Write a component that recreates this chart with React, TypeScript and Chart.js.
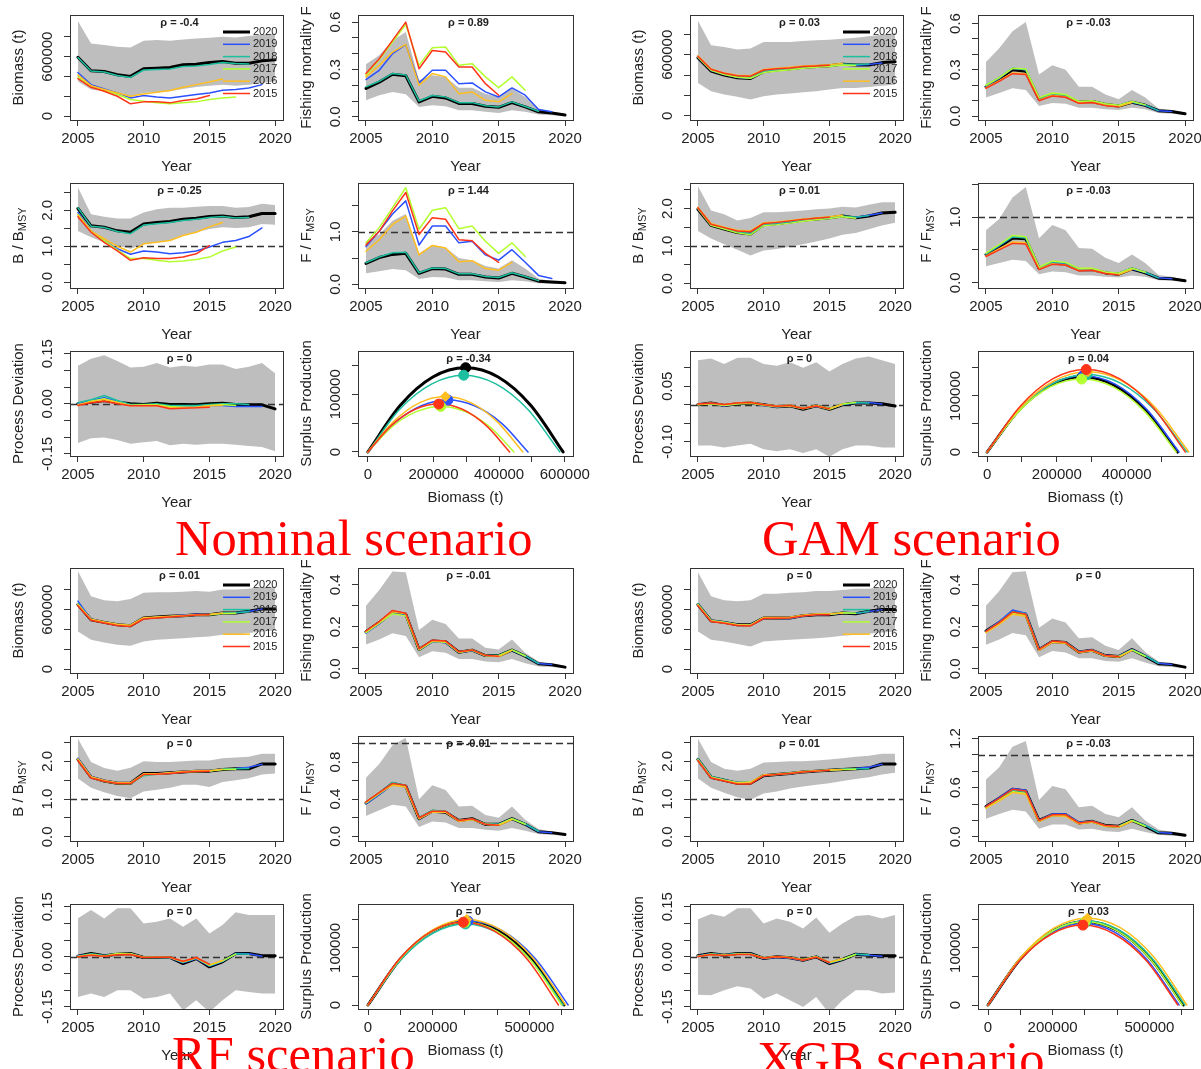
import React, { useEffect, useRef } from 'react';
import { Chart, registerables } from 'chart.js';

Chart.register(...registerables);

const FONT = "'Liberation Sans', Arial, Helvetica, sans-serif";
const TEXT = '#222222';
const AXIS = '#333333';
const BAND_COLOR = '#BEBEBE';

const YEARS = [2005, 2006, 2007, 2008, 2009, 2010, 2011, 2012, 2013, 2014, 2015, 2016, 2017, 2018, 2019, 2020];
const PEELS = ['2020', '2019', '2018', '2017', '2016', '2015'];
const PEEL_COLORS = ['#000000', '#2B50FF', '#1CBF9F', '#B4FF30', '#FFBF20', '#FF3418'];
const SCENARIOS = ['Nominal scenario', 'GAM scenario', 'RF scenario', 'XGB scenario'];

// ---------- tick values & labels ----------
const YEAR_TICKS = [2005, 2010, 2015, 2020];
const YEAR_LABELS = ['2005', '2010', '2015', '2020'];
const BIOMASS_TICKS = [0, 200000, 400000, 600000, 800000];
const BIOMASS_LABELS = ['0', '', '', '600000', ''];
const F06_TICKS = [0, 0.1, 0.2, 0.3, 0.4, 0.5, 0.6];
const F06_LABELS = ['0.0', '', '', '0.3', '', '', '0.6'];
const F04_TICKS = [0, 0.1, 0.2, 0.3, 0.4];
const F04_LABELS = ['0.0', '', '0.2', '', '0.4'];
const BB_TICKS = [0, 0.5, 1, 1.5, 2, 2.5];
const BB_LABELS = ['0.0', '', '1.0', '', '2.0', ''];
const FF15_TICKS = [0, 0.5, 1, 1.5];
const FF15_LABELS = ['0.0', '', '1.0', ''];
const FF10_TICKS = [0, 0.2, 0.4, 0.6, 0.8, 1.0];
const FF10_LABELS = ['0.0', '', '0.4', '', '0.8', ''];
const FF12_TICKS = [0, 0.2, 0.4, 0.6, 0.8, 1.0, 1.2];
const FF12_LABELS = ['0.0', '', '', '0.6', '', '', '1.2'];
const PD15_TICKS = [-0.15, -0.1, -0.05, 0, 0.05, 0.1, 0.15];
const PD15_LABELS = ['-0.15', '', '', '0.00', '', '', '0.15'];
const PD10_TICKS = [-0.1, -0.05, 0, 0.05, 0.1];
const PD10_LABELS = ['-0.10', '', '', '0.05', ''];
const SPY_TICKS = [0, 50000, 100000, 150000];
const SPY_LABELS = ['0', '', '100000', ''];
const SPX600_TICKS = [0, 100000, 200000, 300000, 400000, 500000, 600000];
const NOM_SPX_LABELS = ['0', '', '200000', '', '400000', '', '600000'];
const TREE_SPX_LABELS = ['0', '', '200000', '', '', '500000', ''];
const SPX500_TICKS = [0, 100000, 200000, 300000, 400000, 500000];
const GAM_SPX_LABELS = ['0', '', '200000', '', '400000', ''];

// ---------- Nominal ----------
const NOM_RHO = ['-0.4', '0.89', '-0.25', '1.44', '0', '-0.34'];
const NOM_BIOMASS = [
  [593000, 457000, 450000, 417000, 400000, 477000, 483000, 490000, 517000, 523000, 540000, 550000, 533000, 533000, 557000, 567000],
  [440000, 317000, 273000, 233000, 183000, 207000, 193000, 183000, 200000, 217000, 233000, 260000, 267000, 283000, 317000],
  [590000, 455000, 445000, 410000, 390000, 465000, 470000, 475000, 500000, 505000, 520000, 540000, 530000, 525000],
  [393000, 300000, 260000, 217000, 167000, 150000, 133000, 123000, 133000, 143000, 167000, 183000, 193000],
  [417000, 307000, 267000, 233000, 200000, 223000, 240000, 257000, 290000, 317000, 343000, 373000],
  [377000, 290000, 250000, 200000, 123000, 143000, 143000, 133000, 157000, 173000, 207000],
];
const NOM_BIOMASS_HI = [960000, 733000, 717000, 700000, 693000, 760000, 767000, 760000, 773000, 783000, 790000, 800000, 793000, 807000, 823000, 833000];
const NOM_BIOMASS_LO = [350000, 267000, 250000, 223000, 200000, 233000, 240000, 250000, 273000, 293000, 307000, 317000, 307000, 317000, 333000, 350000];
const NOM_F = [
  [0.18, 0.22, 0.27, 0.26, 0.095, 0.13, 0.12, 0.085, 0.085, 0.067, 0.06, 0.09, 0.063, 0.032, 0.025, 0.012],
  [0.236, 0.295, 0.40, 0.457, 0.215, 0.295, 0.295, 0.21, 0.215, 0.158, 0.126, 0.183, 0.137, 0.046, 0.032],
  [0.19, 0.225, 0.275, 0.265, 0.1, 0.135, 0.125, 0.09, 0.09, 0.07, 0.063, 0.095, 0.066, 0.035],
  [0.263, 0.362, 0.474, 0.585, 0.326, 0.438, 0.442, 0.326, 0.337, 0.253, 0.185, 0.253, 0.168],
  [0.253, 0.326, 0.41, 0.459, 0.2, 0.274, 0.253, 0.147, 0.158, 0.105, 0.095, 0.147],
  [0.274, 0.368, 0.484, 0.60, 0.305, 0.42, 0.41, 0.316, 0.316, 0.21, 0.137],
];
const NOM_F_HI = [0.333, 0.39, 0.484, 0.537, 0.232, 0.263, 0.253, 0.185, 0.185, 0.147, 0.126, 0.179, 0.126, 0.053, 0.032, 0.015];
const NOM_F_LO = [0.105, 0.137, 0.158, 0.143, 0.063, 0.074, 0.067, 0.042, 0.042, 0.032, 0.025, 0.042, 0.032, 0.015, 0.01, 0.006];
const NOM_BB = [
  [2.05, 1.57, 1.53, 1.43, 1.39, 1.62, 1.66, 1.69, 1.75, 1.78, 1.83, 1.84, 1.80, 1.82, 1.91, 1.91],
  [1.94, 1.43, 1.16, 0.93, 0.78, 0.87, 0.84, 0.79, 0.82, 0.87, 0.98, 1.11, 1.16, 1.27, 1.51],
  [2.07, 1.56, 1.52, 1.41, 1.35, 1.59, 1.63, 1.66, 1.72, 1.75, 1.80, 1.83, 1.79, 1.80],
  [1.89, 1.43, 1.16, 0.90, 0.66, 0.66, 0.61, 0.57, 0.59, 0.63, 0.70, 0.87, 0.98],
  [1.87, 1.42, 1.21, 1.00, 0.84, 1.07, 1.11, 1.16, 1.30, 1.39, 1.54, 1.66],
  [1.82, 1.39, 1.11, 0.87, 0.61, 0.68, 0.66, 0.66, 0.70, 0.79, 1.02],
];
const NOM_BB_HI = [2.64, 1.89, 1.82, 1.77, 1.77, 1.94, 2.03, 2.07, 2.07, 2.10, 2.12, 2.12, 2.07, 2.09, 2.18, 2.15];
const NOM_BB_LO = [1.43, 1.25, 1.11, 1.02, 0.93, 1.05, 1.11, 1.16, 1.30, 1.39, 1.48, 1.53, 1.51, 1.53, 1.62, 1.60];
const NOM_FF = [
  [0.40, 0.51, 0.57, 0.59, 0.21, 0.30, 0.29, 0.19, 0.19, 0.14, 0.12, 0.21, 0.14, 0.06, 0.045, 0.03],
  [0.72, 1.01, 1.34, 1.59, 0.75, 1.11, 1.11, 0.79, 0.82, 0.56, 0.46, 0.66, 0.42, 0.17, 0.11],
  [0.41, 0.52, 0.60, 0.61, 0.22, 0.31, 0.30, 0.20, 0.20, 0.15, 0.13, 0.22, 0.15, 0.07],
  [0.79, 1.08, 1.46, 1.84, 1.05, 1.41, 1.46, 1.06, 1.11, 0.82, 0.59, 0.79, 0.53],
  [0.63, 0.85, 1.14, 1.30, 0.56, 0.74, 0.69, 0.43, 0.45, 0.30, 0.27, 0.42],
  [0.75, 1.01, 1.40, 1.75, 0.95, 1.27, 1.24, 0.85, 0.83, 0.59, 0.42],
];
const NOM_FF_HI = [0.82, 0.95, 1.21, 1.34, 0.59, 0.75, 0.70, 0.50, 0.46, 0.35, 0.30, 0.46, 0.30, 0.11, 0.06, 0.03];
const NOM_FF_LO = [0.21, 0.25, 0.29, 0.27, 0.10, 0.14, 0.13, 0.08, 0.08, 0.06, 0.045, 0.08, 0.06, 0.02, 0.013, 0.006];
const NOM_PD = [
  [0.0, 0.005, 0.01, 0.005, 0.0, -0.002, 0.002, -0.002, -0.002, -0.003, 0.0, 0.002, -0.002, -0.003, -0.003, -0.015],
  [0.0, 0.01, 0.018, 0.008, -0.003, -0.003, -0.002, -0.01, -0.01, -0.008, -0.005, -0.005, -0.008, -0.008, -0.008],
  [0.003, 0.012, 0.025, 0.01, -0.002, -0.002, 0.0, -0.005, -0.005, -0.005, -0.002, 0.0, 0.0, -0.002],
  [-0.005, 0.008, 0.015, 0.005, -0.005, -0.003, -0.003, -0.008, -0.01, -0.01, -0.005, -0.002, -0.005],
  [-0.003, 0.006, 0.012, 0.004, -0.005, -0.005, -0.005, -0.012, -0.012, -0.01, -0.006, -0.004],
  [-0.005, 0.003, 0.008, 0.0, -0.006, -0.006, -0.006, -0.015, -0.013, -0.012, -0.01],
];
const NOM_PD_HI = [0.114, 0.135, 0.145, 0.128, 0.109, 0.111, 0.122, 0.109, 0.114, 0.111, 0.118, 0.118, 0.104, 0.111, 0.122, 0.091];
const NOM_PD_LO = [-0.117, -0.103, -0.101, -0.108, -0.119, -0.115, -0.111, -0.124, -0.119, -0.122, -0.119, -0.119, -0.122, -0.126, -0.129, -0.142];
const NOM_SP = [
  [[0, 0], [99000, 81000], [198000, 130000], [298000, 146000], [397000, 130000], [496000, 81000], [595000, 0]],
  [[0, 0], [81000, 50000], [163000, 80000], [244000, 90000], [325000, 80000], [407000, 50000], [488000, 0]],
  [[0, 0], [97000, 74000], [195000, 118000], [292000, 133000], [390000, 118000], [487000, 74000], [585000, 0]],
  [[0, 0], [74000, 44000], [148000, 70000], [222000, 79000], [297000, 70000], [371000, 44000], [445000, 0]],
  [[0, 0], [79000, 53000], [157000, 85000], [236000, 96000], [315000, 85000], [393000, 53000], [472000, 0]],
  [[0, 0], [72000, 46000], [144000, 74000], [216000, 83000], [288000, 74000], [360000, 46000], [432000, 0]],
];
const NOM_MSY = [[298000, 146000], [244000, 90000], [292000, 133000], [222000, 79000], [236000, 96000], [216000, 83000]];

// ---------- GAM ----------
const GAM_RHO = ['0.03', '-0.03', '0.01', '-0.03', '0', '0.04'];
const GAM_BIOMASS = [
  [570000, 440000, 400000, 375000, 368000, 435000, 452000, 462000, 478000, 485000, 492000, 508000, 500000, 500000, 523000, 532000],
  [575000, 445000, 405000, 378000, 370000, 430000, 445000, 458000, 472000, 480000, 488000, 505000, 498000, 505000, 520000],
  [580000, 450000, 410000, 382000, 375000, 440000, 455000, 465000, 480000, 488000, 495000, 510000, 505000, 510000],
  [578000, 448000, 405000, 380000, 370000, 425000, 440000, 452000, 468000, 478000, 485000, 500000, 495000],
  [590000, 460000, 420000, 400000, 395000, 455000, 468000, 478000, 490000, 495000, 502000, 515000],
  [585000, 458000, 418000, 395000, 390000, 450000, 462000, 470000, 485000, 490000, 497000],
];
const GAM_BIOMASS_HI = [935000, 694000, 677000, 652000, 661000, 726000, 726000, 726000, 735000, 742000, 748000, 758000, 768000, 781000, 797000, 813000];
const GAM_BIOMASS_LO = [323000, 242000, 210000, 187000, 161000, 194000, 210000, 219000, 232000, 242000, 258000, 274000, 274000, 284000, 297000, 306000];
const GAM_F = [
  [0.19, 0.24, 0.30, 0.29, 0.11, 0.14, 0.13, 0.09, 0.095, 0.075, 0.065, 0.09, 0.07, 0.035, 0.03, 0.015],
  [0.195, 0.245, 0.31, 0.30, 0.115, 0.14, 0.135, 0.09, 0.095, 0.075, 0.068, 0.09, 0.07, 0.035, 0.03],
  [0.2, 0.25, 0.31, 0.3, 0.115, 0.145, 0.135, 0.092, 0.097, 0.077, 0.068, 0.092, 0.072, 0.036],
  [0.2, 0.25, 0.31, 0.305, 0.12, 0.15, 0.14, 0.095, 0.1, 0.08, 0.07, 0.095, 0.073],
  [0.185, 0.23, 0.28, 0.275, 0.105, 0.135, 0.125, 0.085, 0.09, 0.07, 0.062, 0.088],
  [0.18, 0.225, 0.275, 0.27, 0.1, 0.13, 0.122, 0.083, 0.088, 0.068, 0.06],
];
const GAM_F_HI = [0.35, 0.44, 0.55, 0.61, 0.27, 0.33, 0.30, 0.19, 0.19, 0.14, 0.11, 0.17, 0.12, 0.05, 0.035, 0.018];
const GAM_F_LO = [0.12, 0.15, 0.18, 0.17, 0.065, 0.085, 0.08, 0.055, 0.055, 0.045, 0.04, 0.055, 0.045, 0.02, 0.015, 0.007];
const GAM_BB = [
  [1.98, 1.55, 1.45, 1.36, 1.32, 1.57, 1.60, 1.64, 1.69, 1.72, 1.75, 1.80, 1.75, 1.80, 1.88, 1.90],
  [2.0, 1.56, 1.46, 1.37, 1.33, 1.56, 1.59, 1.63, 1.68, 1.71, 1.74, 1.79, 1.76, 1.82, 1.88],
  [2.02, 1.57, 1.47, 1.38, 1.34, 1.58, 1.61, 1.65, 1.70, 1.73, 1.76, 1.80, 1.77, 1.81],
  [2.0, 1.55, 1.45, 1.35, 1.30, 1.54, 1.57, 1.61, 1.66, 1.70, 1.73, 1.78, 1.74],
  [2.03, 1.6, 1.5, 1.42, 1.4, 1.62, 1.64, 1.68, 1.72, 1.75, 1.78, 1.82],
  [2.02, 1.58, 1.49, 1.40, 1.38, 1.60, 1.63, 1.67, 1.71, 1.74, 1.77],
];
const GAM_BB_HI = [2.6, 1.95, 1.85, 1.68, 1.75, 1.9, 1.9, 1.92, 1.95, 1.98, 2.0, 2.05, 2.03, 2.1, 2.17, 2.17];
const GAM_BB_LO = [1.4, 1.2, 1.05, 0.9, 0.75, 0.88, 0.92, 0.98, 1.05, 1.12, 1.2, 1.3, 1.35, 1.45, 1.55, 1.62];
const GAM_FF = [
  [0.43, 0.55, 0.68, 0.67, 0.22, 0.30, 0.28, 0.20, 0.20, 0.15, 0.13, 0.21, 0.15, 0.07, 0.06, 0.03],
  [0.44, 0.56, 0.70, 0.69, 0.23, 0.31, 0.29, 0.2, 0.21, 0.155, 0.135, 0.21, 0.155, 0.075, 0.06],
  [0.44, 0.57, 0.70, 0.68, 0.23, 0.32, 0.30, 0.21, 0.21, 0.16, 0.14, 0.22, 0.16, 0.075],
  [0.45, 0.58, 0.72, 0.70, 0.24, 0.33, 0.31, 0.22, 0.22, 0.165, 0.145, 0.22, 0.16],
  [0.41, 0.52, 0.62, 0.61, 0.21, 0.29, 0.27, 0.19, 0.19, 0.145, 0.125, 0.2],
  [0.40, 0.50, 0.60, 0.59, 0.2, 0.28, 0.27, 0.18, 0.19, 0.14, 0.12],
];
const GAM_FF_HI = [0.8, 0.97, 1.3, 1.46, 0.68, 0.88, 0.8, 0.53, 0.52, 0.38, 0.3, 0.43, 0.3, 0.12, 0.09, 0.04];
const GAM_FF_LO = [0.25, 0.3, 0.35, 0.33, 0.13, 0.17, 0.16, 0.11, 0.11, 0.09, 0.08, 0.11, 0.09, 0.04, 0.03, 0.015];
const GAM_PD = [
  [0.0, 0.005, -0.002, 0.003, 0.005, 0.0, -0.005, -0.003, -0.012, -0.003, -0.012, 0.0, 0.005, 0.005, 0.003, -0.003],
  [0.0, 0.004, -0.003, 0.003, 0.005, -0.002, -0.006, -0.003, -0.01, -0.004, -0.011, 0.0, 0.005, 0.006, 0.002],
  [0.001, 0.005, -0.001, 0.004, 0.006, 0.0, -0.004, -0.002, -0.01, -0.002, -0.01, 0.001, 0.006, 0.005],
  [0.0, 0.003, -0.002, 0.002, 0.004, -0.001, -0.005, -0.003, -0.011, -0.003, -0.012, 0.002, 0.006],
  [0.001, 0.004, 0.0, 0.005, 0.007, 0.001, -0.003, -0.001, -0.009, -0.002, -0.01, 0.001],
  [0.002, 0.005, 0.001, 0.005, 0.006, 0.0, -0.004, -0.002, -0.01, -0.003, -0.011],
];
const GAM_PD_HI = [0.12, 0.125, 0.11, 0.127, 0.127, 0.11, 0.105, 0.115, 0.1, 0.115, 0.09, 0.11, 0.125, 0.13, 0.12, 0.11];
const GAM_PD_LO = [-0.11, -0.11, -0.115, -0.11, -0.105, -0.12, -0.125, -0.12, -0.13, -0.12, -0.14, -0.12, -0.11, -0.11, -0.115, -0.115];
const GAM_SP = [
  [[0, 0], [91000, 74500], [182000, 119000], [273000, 134000], [364000, 119000], [455000, 74500], [546000, 0]],
  [[0, 0], [92000, 75600], [183000, 121000], [275000, 136000], [367000, 121000], [458000, 75600], [550000, 0]],
  [[0, 0], [95500, 76700], [191000, 122700], [286500, 138000], [382000, 122700], [477500, 76700], [573000, 0]],
  [[0, 0], [90000, 72000], [181000, 116000], [271000, 130000], [361000, 116000], [452000, 72000], [542000, 0]],
  [[0, 0], [96000, 79500], [193000, 127000], [289000, 143000], [385000, 127000], [482000, 79500], [578000, 0]],
  [[0, 0], [95000, 81700], [189000, 130700], [284000, 147000], [379000, 130700], [473000, 81700], [568000, 0]],
];
const GAM_MSY = [[273000, 134000], [275000, 136000], [286500, 138000], [271000, 130000], [289000, 143000], [284000, 147000]];

// ---------- RF ----------
const RF_RHO = ['0.01', '-0.01', '0', '-0.01', '0', '0'];
const RF_BIOMASS = [
  [651000, 498000, 471000, 447000, 437000, 515000, 525000, 532000, 539000, 549000, 549000, 566000, 566000, 583000, 607000, 607000],
  [685000, 500000, 472000, 448000, 438000, 512000, 522000, 530000, 545000, 552000, 550000, 565000, 568000, 580000, 605000],
  [660000, 500000, 473000, 450000, 440000, 510000, 522000, 530000, 537000, 547000, 548000, 565000, 568000, 578000],
  [655000, 497000, 470000, 448000, 435000, 512000, 520000, 528000, 536000, 546000, 548000, 560000, 562000],
  [650000, 502000, 475000, 452000, 442000, 518000, 526000, 533000, 540000, 548000, 552000, 565000],
  [640000, 492000, 465000, 440000, 430000, 505000, 515000, 525000, 535000, 545000, 548000],
];
const RF_BIOMASS_HI = [990000, 736000, 695000, 685000, 708000, 770000, 776000, 776000, 780000, 787000, 780000, 803000, 803000, 810000, 830000, 830000];
const RF_BIOMASS_LO = [380000, 295000, 268000, 244000, 234000, 278000, 295000, 302000, 312000, 322000, 329000, 346000, 346000, 363000, 380000, 390000];
const RF_F = [
  [0.176, 0.22, 0.27, 0.26, 0.092, 0.132, 0.129, 0.079, 0.089, 0.063, 0.063, 0.089, 0.06, 0.024, 0.019, 0.008],
  [0.17, 0.215, 0.265, 0.255, 0.09, 0.128, 0.125, 0.078, 0.087, 0.062, 0.062, 0.088, 0.06, 0.025, 0.02],
  [0.175, 0.22, 0.275, 0.262, 0.093, 0.133, 0.13, 0.08, 0.09, 0.064, 0.064, 0.09, 0.062, 0.026],
  [0.172, 0.218, 0.262, 0.252, 0.09, 0.13, 0.127, 0.078, 0.088, 0.062, 0.062, 0.09, 0.061],
  [0.178, 0.222, 0.272, 0.262, 0.094, 0.134, 0.13, 0.08, 0.09, 0.063, 0.058, 0.088],
  [0.18, 0.225, 0.278, 0.265, 0.095, 0.136, 0.132, 0.081, 0.09, 0.064, 0.06],
];
const RF_F_HI = [0.30, 0.375, 0.463, 0.46, 0.185, 0.234, 0.213, 0.144, 0.144, 0.10, 0.092, 0.14, 0.076, 0.035, 0.019, 0.011];
const RF_F_LO = [0.116, 0.14, 0.169, 0.156, 0.055, 0.084, 0.076, 0.047, 0.047, 0.035, 0.031, 0.047, 0.027, 0.011, 0.008, 0.003];
const RF_BB = [
  [2.05, 1.58, 1.48, 1.42, 1.42, 1.68, 1.68, 1.70, 1.72, 1.74, 1.74, 1.78, 1.80, 1.80, 1.93, 1.93],
  [2.08, 1.6, 1.49, 1.43, 1.43, 1.66, 1.67, 1.70, 1.73, 1.75, 1.75, 1.79, 1.81, 1.84, 1.92],
  [2.06, 1.58, 1.48, 1.42, 1.41, 1.62, 1.66, 1.69, 1.72, 1.74, 1.75, 1.79, 1.80, 1.81],
  [2.04, 1.57, 1.47, 1.41, 1.41, 1.65, 1.66, 1.69, 1.72, 1.73, 1.74, 1.78, 1.79],
  [2.06, 1.59, 1.49, 1.43, 1.43, 1.67, 1.67, 1.70, 1.73, 1.75, 1.75, 1.79],
  [2.02, 1.56, 1.47, 1.41, 1.41, 1.65, 1.66, 1.68, 1.71, 1.73, 1.74],
];
const RF_BB_HI = [2.6, 1.98, 1.82, 1.75, 1.83, 2.0, 1.98, 1.98, 2.0, 2.02, 2.02, 2.08, 2.1, 2.12, 2.2, 2.2];
const RF_BB_LO = [1.55, 1.3, 1.18, 1.08, 1.02, 1.2, 1.25, 1.3, 1.38, 1.38, 1.32, 1.45, 1.5, 1.55, 1.65, 1.68];
const RF_FF = [
  [0.36, 0.46, 0.57, 0.54, 0.19, 0.27, 0.26, 0.17, 0.19, 0.13, 0.13, 0.19, 0.13, 0.05, 0.04, 0.02],
  [0.35, 0.45, 0.56, 0.53, 0.19, 0.26, 0.26, 0.17, 0.18, 0.13, 0.13, 0.19, 0.13, 0.05, 0.04],
  [0.37, 0.47, 0.58, 0.55, 0.2, 0.28, 0.27, 0.17, 0.19, 0.135, 0.13, 0.19, 0.135, 0.055],
  [0.36, 0.46, 0.56, 0.53, 0.19, 0.27, 0.26, 0.17, 0.18, 0.13, 0.125, 0.19, 0.13],
  [0.37, 0.47, 0.55, 0.53, 0.19, 0.26, 0.26, 0.16, 0.18, 0.13, 0.12, 0.18],
  [0.37, 0.47, 0.57, 0.55, 0.2, 0.27, 0.27, 0.17, 0.19, 0.13, 0.12],
];
const RF_FF_HI = [0.63, 0.78, 0.98, 1.06, 0.4, 0.55, 0.5, 0.32, 0.33, 0.23, 0.2, 0.32, 0.18, 0.08, 0.05, 0.025];
const RF_FF_LO = [0.22, 0.28, 0.34, 0.32, 0.1, 0.16, 0.15, 0.09, 0.09, 0.07, 0.06, 0.09, 0.06, 0.025, 0.015, 0.006];
const RF_PD = [
  [0.002, 0.01, 0.003, 0.008, 0.01, -0.002, -0.002, -0.002, -0.02, -0.005, -0.03, -0.015, 0.01, 0.01, 0.003, 0.003],
  [0.003, 0.008, 0.003, 0.007, 0.009, -0.002, -0.002, -0.003, -0.018, -0.006, -0.028, -0.014, 0.01, 0.009, 0.002],
  [0.002, 0.009, 0.004, 0.009, 0.01, -0.001, -0.001, -0.002, -0.016, -0.004, -0.027, -0.013, 0.009, 0.008],
  [0.001, 0.007, 0.002, 0.01, 0.009, -0.002, -0.002, -0.002, -0.015, -0.003, -0.025, -0.012, 0.008],
  [0.0, 0.006, 0.002, 0.007, 0.008, -0.001, -0.001, -0.001, -0.014, -0.003, -0.024, -0.011],
  [0.0, 0.005, 0.002, 0.006, 0.007, -0.002, -0.001, -0.001, -0.013, -0.002, -0.022],
];
const RF_PD_HI = [0.115, 0.14, 0.115, 0.145, 0.145, 0.1, 0.105, 0.115, 0.09, 0.115, 0.07, 0.095, 0.133, 0.125, 0.125, 0.125];
const RF_PD_LO = [-0.12, -0.11, -0.12, -0.1, -0.1, -0.125, -0.12, -0.11, -0.16, -0.13, -0.165, -0.13, -0.1, -0.105, -0.11, -0.11];
const RF_SP = [
  [[0, 0], [101000, 81000], [202000, 130000], [303000, 146000], [405000, 130000], [506000, 81000], [607000, 0]],
  [[0, 0], [103000, 82000], [207000, 131000], [310000, 147000], [413000, 131000], [517000, 82000], [620000, 0]],
  [[0, 0], [101000, 79000], [202000, 126000], [302000, 142000], [403000, 126000], [504000, 79000], [605000, 0]],
  [[0, 0], [100000, 81000], [200000, 129000], [300000, 145000], [400000, 129000], [500000, 81000], [600000, 0]],
  [[0, 0], [102000, 83000], [204000, 133000], [306000, 150000], [408000, 133000], [510000, 83000], [612000, 0]],
  [[0, 0], [98000, 81000], [197000, 129000], [295000, 145000], [393000, 129000], [492000, 81000], [590000, 0]],
];
const RF_MSY = [[303000, 146000], [310000, 147000], [302000, 142000], [300000, 145000], [306000, 150000], [295000, 145000]];

// ---------- XGB ----------
const XGB_RHO = ['0', '0', '0.01', '-0.03', '0', '0.03'];
const XGB_BIOMASS = [
  [651000, 488000, 471000, 447000, 447000, 515000, 515000, 515000, 539000, 549000, 549000, 566000, 559000, 583000, 600000, 600000],
  [655000, 490000, 472000, 448000, 445000, 512000, 512000, 510000, 535000, 548000, 550000, 565000, 560000, 580000, 598000],
  [660000, 492000, 474000, 450000, 447000, 515000, 515000, 515000, 538000, 550000, 552000, 567000, 562000, 582000],
  [650000, 486000, 468000, 445000, 440000, 518000, 518000, 520000, 540000, 552000, 553000, 568000, 563000],
  [648000, 487000, 470000, 447000, 442000, 520000, 520000, 522000, 542000, 555000, 556000, 565000],
  [640000, 480000, 463000, 440000, 435000, 510000, 512000, 515000, 535000, 548000, 549000],
];
const XGB_BIOMASS_HI = [980000, 736000, 695000, 685000, 695000, 760000, 760000, 770000, 776000, 787000, 787000, 797000, 810000, 810000, 827000, 830000];
const XGB_BIOMASS_LO = [380000, 295000, 278000, 254000, 227000, 278000, 288000, 295000, 302000, 312000, 322000, 336000, 346000, 356000, 370000, 380000];
const XGB_F = [
  [0.18, 0.22, 0.27, 0.26, 0.092, 0.13, 0.125, 0.08, 0.088, 0.063, 0.058, 0.092, 0.06, 0.024, 0.02, 0.008],
  [0.18, 0.225, 0.28, 0.265, 0.094, 0.13, 0.126, 0.082, 0.09, 0.064, 0.06, 0.092, 0.062, 0.026, 0.02],
  [0.178, 0.22, 0.272, 0.262, 0.093, 0.13, 0.126, 0.081, 0.088, 0.063, 0.059, 0.09, 0.062, 0.027],
  [0.175, 0.215, 0.265, 0.255, 0.09, 0.128, 0.124, 0.079, 0.087, 0.062, 0.058, 0.09, 0.06],
  [0.172, 0.212, 0.26, 0.25, 0.088, 0.126, 0.122, 0.078, 0.086, 0.061, 0.056, 0.088],
  [0.178, 0.22, 0.27, 0.26, 0.092, 0.132, 0.126, 0.08, 0.089, 0.063, 0.058],
];
const XGB_F_HI = [0.30, 0.37, 0.46, 0.465, 0.195, 0.24, 0.22, 0.145, 0.15, 0.11, 0.09, 0.145, 0.08, 0.035, 0.02, 0.011];
const XGB_F_LO = [0.115, 0.14, 0.17, 0.16, 0.055, 0.085, 0.078, 0.05, 0.05, 0.037, 0.033, 0.05, 0.03, 0.012, 0.008, 0.003];
const XGB_BB = [
  [2.05, 1.58, 1.5, 1.42, 1.42, 1.62, 1.65, 1.68, 1.72, 1.74, 1.76, 1.78, 1.80, 1.82, 1.93, 1.93],
  [2.06, 1.59, 1.5, 1.43, 1.43, 1.62, 1.65, 1.67, 1.72, 1.74, 1.76, 1.79, 1.81, 1.84, 1.92],
  [2.07, 1.6, 1.51, 1.44, 1.44, 1.63, 1.66, 1.69, 1.73, 1.75, 1.77, 1.79, 1.80, 1.80],
  [2.04, 1.58, 1.5, 1.43, 1.45, 1.63, 1.65, 1.68, 1.72, 1.74, 1.76, 1.78, 1.79],
  [2.03, 1.57, 1.49, 1.42, 1.44, 1.64, 1.66, 1.69, 1.73, 1.75, 1.77, 1.78],
  [2.02, 1.56, 1.48, 1.40, 1.40, 1.62, 1.65, 1.68, 1.72, 1.74, 1.76],
];
const XGB_BB_HI = [2.6, 1.98, 1.8, 1.75, 1.8, 1.97, 1.98, 2.0, 2.0, 2.02, 2.05, 2.08, 2.12, 2.15, 2.2, 2.2];
const XGB_BB_LO = [1.55, 1.3, 1.17, 1.05, 0.98, 1.15, 1.2, 1.28, 1.33, 1.38, 1.42, 1.48, 1.53, 1.58, 1.65, 1.7];
const XGB_FF = [
  [0.37, 0.47, 0.58, 0.56, 0.2, 0.27, 0.27, 0.17, 0.19, 0.14, 0.13, 0.2, 0.13, 0.05, 0.045, 0.02],
  [0.37, 0.48, 0.59, 0.57, 0.2, 0.28, 0.28, 0.18, 0.19, 0.14, 0.13, 0.2, 0.14, 0.055, 0.045],
  [0.36, 0.46, 0.57, 0.55, 0.2, 0.27, 0.27, 0.17, 0.19, 0.14, 0.13, 0.2, 0.14, 0.055],
  [0.35, 0.45, 0.55, 0.53, 0.19, 0.26, 0.26, 0.17, 0.18, 0.13, 0.125, 0.2, 0.13],
  [0.35, 0.44, 0.54, 0.52, 0.19, 0.26, 0.25, 0.16, 0.18, 0.13, 0.12, 0.19],
  [0.37, 0.47, 0.58, 0.56, 0.2, 0.27, 0.27, 0.17, 0.19, 0.14, 0.13],
];
const XGB_FF_HI = [0.7, 0.85, 1.1, 1.17, 0.45, 0.62, 0.58, 0.36, 0.38, 0.28, 0.24, 0.36, 0.2, 0.09, 0.06, 0.03];
const XGB_FF_LO = [0.22, 0.28, 0.33, 0.31, 0.1, 0.15, 0.15, 0.09, 0.1, 0.07, 0.06, 0.1, 0.06, 0.025, 0.015, 0.006];
const XGB_PD = [
  [0.003, 0.01, 0.005, 0.01, 0.01, -0.005, 0.0, -0.003, -0.01, 0.0, -0.02, -0.008, 0.008, 0.005, 0.003, 0.003],
  [0.003, 0.009, 0.005, 0.009, 0.01, -0.006, -0.001, -0.004, -0.011, 0.0, -0.019, -0.008, 0.008, 0.005, 0.002],
  [0.002, 0.009, 0.006, 0.01, 0.009, -0.004, 0.0, -0.003, -0.01, 0.001, -0.018, -0.007, 0.008, 0.006],
  [0.002, 0.008, 0.005, 0.008, 0.008, -0.004, 0.0, -0.002, -0.009, 0.0, -0.017, -0.007, 0.007],
  [0.001, 0.007, 0.004, 0.008, 0.008, -0.003, 0.001, -0.002, -0.009, 0.0, -0.016, -0.006],
  [0.001, 0.007, 0.004, 0.007, 0.007, -0.004, 0.0, -0.003, -0.01, -0.001, -0.017],
];
const XGB_PD_HI = [0.112, 0.128, 0.12, 0.145, 0.145, 0.1, 0.115, 0.105, 0.085, 0.118, 0.072, 0.1, 0.122, 0.125, 0.115, 0.125];
const XGB_PD_LO = [-0.113, -0.115, -0.1, -0.088, -0.095, -0.125, -0.11, -0.13, -0.15, -0.12, -0.17, -0.13, -0.1, -0.1, -0.11, -0.107];
const XGB_SP = [
  [[0, 0], [101000, 81000], [202000, 130000], [303000, 146000], [403000, 130000], [504000, 81000], [605000, 0]],
  [[0, 0], [99000, 79500], [197000, 127000], [296000, 143000], [395000, 127000], [493000, 79500], [592000, 0]],
  [[0, 0], [102000, 82000], [203000, 131000], [305000, 147000], [407000, 131000], [508000, 82000], [610000, 0]],
  [[0, 0], [100000, 81000], [201000, 130000], [301000, 146000], [401000, 130000], [502000, 81000], [602000, 0]],
  [[0, 0], [103000, 84500], [205000, 135000], [308000, 152000], [411000, 135000], [513000, 84500], [616000, 0]],
  [[0, 0], [98000, 78000], [196000, 124000], [294000, 140000], [392000, 124000], [490000, 78000], [588000, 0]],
];
const XGB_MSY = [[303000, 146000], [296000, 143000], [305000, 147000], [301000, 146000], [308000, 152000], [294000, 140000]];

// ---------- layout ----------
const PAD_L = 70, PAD_T = 15, PAD_R = 26, PAD_B = 60;
const COL_LEFT = [70, 358];
const COL_W = [213, 215];
const ROW_TOP = [15, 183, 351];
const BOX_H = 105;
const YEAR_RANGE = [2004.4, 2020.6];

interface PanelSpec {
  left: number; top: number; w: number; h: number;
  kind: 'ts' | 'sp';
  yTitle: string; ySub?: string; xTitle: string; xGap: number;
  yRange: number[]; yTicks: number[]; yLabels: string[];
  xRange: number[]; xTicks: number[]; xLabels: string[];
  lines?: number[][]; hi?: number[]; lo?: number[];
  curves?: number[][][]; msy?: number[][];
  ref: number | null; rho: string; legend?: boolean;
}

function quadrant(ox: number, oy: number, q: any): PanelSpec[] {
  const box = (c: number, r: number) => ({ left: ox + COL_LEFT[c], top: oy + ROW_TOP[r], w: COL_W[c], h: BOX_H });
  const ts = { kind: 'ts' as const, xTitle: 'Year', xGap: 47, xRange: YEAR_RANGE, xTicks: YEAR_TICKS, xLabels: YEAR_LABELS };
  return [
    { ...box(0, 0), ...ts, yTitle: 'Biomass (t)', yRange: q.bRange, yTicks: BIOMASS_TICKS, yLabels: BIOMASS_LABELS,
      lines: q.b, hi: q.bHi, lo: q.bLo, ref: null, rho: q.rho[0], legend: true },
    { ...box(1, 0), ...ts, yTitle: 'Fishing mortality F', yRange: q.fRange, yTicks: q.fTicks, yLabels: q.fLabels,
      lines: q.f, hi: q.fHi, lo: q.fLo, ref: null, rho: q.rho[1] },
    { ...box(0, 1), ...ts, yTitle: 'B / B', ySub: 'MSY', yRange: q.bbRange, yTicks: BB_TICKS, yLabels: BB_LABELS,
      lines: q.bb, hi: q.bbHi, lo: q.bbLo, ref: 1, rho: q.rho[2] },
    { ...box(1, 1), ...ts, yTitle: 'F / F', ySub: 'MSY', yRange: q.ffRange, yTicks: q.ffTicks, yLabels: q.ffLabels,
      lines: q.ff, hi: q.ffHi, lo: q.ffLo, ref: 1, rho: q.rho[3] },
    { ...box(0, 2), ...ts, yTitle: 'Process Deviation', yRange: q.pdRange, yTicks: q.pdTicks, yLabels: q.pdLabels,
      lines: q.pd, hi: q.pdHi, lo: q.pdLo, ref: 0, rho: q.rho[4] },
    { ...box(1, 2), kind: 'sp', yTitle: 'Surplus Production', xTitle: 'Biomass (t)', xGap: 42,
      yRange: q.spYRange, yTicks: SPY_TICKS, yLabels: SPY_LABELS,
      xRange: q.spXRange, xTicks: q.spXTicks, xLabels: q.spXLabels,
      curves: q.sp, msy: q.msy, ref: null, rho: q.rho[5] },
  ];
}

const PANELS: PanelSpec[] = [
  ...quadrant(0, 0, {
    rho: NOM_RHO, b: NOM_BIOMASS, bHi: NOM_BIOMASS_HI, bLo: NOM_BIOMASS_LO, bRange: [-40000, 1020000],
    f: NOM_F, fHi: NOM_F_HI, fLo: NOM_F_LO, fRange: [-0.02, 0.645], fTicks: F06_TICKS, fLabels: F06_LABELS,
    bb: NOM_BB, bbHi: NOM_BB_HI, bbLo: NOM_BB_LO, bbRange: [-0.16, 2.76],
    ff: NOM_FF, ffHi: NOM_FF_HI, ffLo: NOM_FF_LO, ffRange: [-0.07, 1.93], ffTicks: FF15_TICKS, ffLabels: FF15_LABELS,
    pd: NOM_PD, pdHi: NOM_PD_HI, pdLo: NOM_PD_LO, pdRange: [-0.156, 0.158], pdTicks: PD15_TICKS, pdLabels: PD15_LABELS,
    sp: NOM_SP, msy: NOM_MSY, spYRange: [-7000, 175000], spXRange: [-30000, 625000], spXTicks: SPX600_TICKS, spXLabels: NOM_SPX_LABELS,
  }),
  ...quadrant(620, 0, {
    rho: GAM_RHO, b: GAM_BIOMASS, bHi: GAM_BIOMASS_HI, bLo: GAM_BIOMASS_LO, bRange: [-40000, 990000],
    f: GAM_F, fHi: GAM_F_HI, fLo: GAM_F_LO, fRange: [-0.025, 0.655], fTicks: F06_TICKS, fLabels: F06_LABELS,
    bb: GAM_BB, bbHi: GAM_BB_HI, bbLo: GAM_BB_LO, bbRange: [-0.12, 2.68],
    ff: GAM_FF, ffHi: GAM_FF_HI, ffLo: GAM_FF_LO, ffRange: [-0.08, 1.52], ffTicks: FF15_TICKS, ffLabels: FF15_LABELS,
    pd: GAM_PD, pdHi: GAM_PD_HI, pdLo: GAM_PD_LO, pdRange: [-0.138, 0.145], pdTicks: PD10_TICKS, pdLabels: PD10_LABELS,
    sp: GAM_SP, msy: GAM_MSY, spYRange: [-7000, 180000], spXRange: [-26000, 590000], spXTicks: SPX500_TICKS, spXLabels: GAM_SPX_LABELS,
  }),
  ...quadrant(0, 553, {
    rho: RF_RHO, b: RF_BIOMASS, bHi: RF_BIOMASS_HI, bLo: RF_BIOMASS_LO, bRange: [-40000, 1020000],
    f: RF_F, fHi: RF_F_HI, fLo: RF_F_LO, fRange: [-0.02, 0.48], fTicks: F04_TICKS, fLabels: F04_LABELS,
    bb: RF_BB, bbHi: RF_BB_HI, bbLo: RF_BB_LO, bbRange: [-0.11, 2.67],
    ff: RF_FF, ffHi: RF_FF_HI, ffLo: RF_FF_LO, ffRange: [-0.05, 1.08], ffTicks: FF10_TICKS, ffLabels: FF10_LABELS,
    pd: RF_PD, pdHi: RF_PD_HI, pdLo: RF_PD_LO, pdRange: [-0.156, 0.158], pdTicks: PD15_TICKS, pdLabels: PD15_LABELS,
    sp: RF_SP, msy: RF_MSY, spYRange: [-7000, 177000], spXRange: [-31000, 635000], spXTicks: SPX600_TICKS, spXLabels: TREE_SPX_LABELS,
  }),
  ...quadrant(620, 553, {
    rho: XGB_RHO, b: XGB_BIOMASS, bHi: XGB_BIOMASS_HI, bLo: XGB_BIOMASS_LO, bRange: [-40000, 1020000],
    f: XGB_F, fHi: XGB_F_HI, fLo: XGB_F_LO, fRange: [-0.02, 0.48], fTicks: F04_TICKS, fLabels: F04_LABELS,
    bb: XGB_BB, bbHi: XGB_BB_HI, bbLo: XGB_BB_LO, bbRange: [-0.11, 2.67],
    ff: XGB_FF, ffHi: XGB_FF_HI, ffLo: XGB_FF_LO, ffRange: [-0.05, 1.23], ffTicks: FF12_TICKS, ffLabels: FF12_LABELS,
    pd: XGB_PD, pdHi: XGB_PD_HI, pdLo: XGB_PD_LO, pdRange: [-0.156, 0.158], pdTicks: PD15_TICKS, pdLabels: PD15_LABELS,
    sp: XGB_SP, msy: XGB_MSY, spYRange: [-7000, 177000], spXRange: [-31000, 635000], spXTicks: SPX600_TICKS, spXLabels: TREE_SPX_LABELS,
  }),
];

const TITLE_POS = [
  { left: 175, top: 513 },
  { left: 762, top: 513 },
  { left: 172, top: 1029 },
  { left: 757, top: 1034 },
];

function decorPlugin(s: PanelSpec) {
  return {
    id: 'decor',
    afterDatasetDraw(chart: any, args: any) {
      if (s.kind !== 'ts' || args.index !== 0 || s.ref === null) return;
      const { ctx, chartArea: a } = chart;
      const y = Math.round(chart.scales.y.getPixelForValue(s.ref)) + 0.5;
      ctx.save();
      ctx.beginPath();
      ctx.rect(a.left, a.top, a.right - a.left, a.bottom - a.top);
      ctx.clip();
      ctx.strokeStyle = '#333';
      ctx.lineWidth = 1.5;
      ctx.setLineDash([7, 4]);
      ctx.beginPath();
      ctx.moveTo(a.left, y);
      ctx.lineTo(a.right, y);
      ctx.stroke();
      ctx.restore();
    },
    afterDraw(chart: any) {
      const { ctx, chartArea: a } = chart;
      const ys = chart.scales.y;
      ctx.save();
      // box
      ctx.strokeStyle = AXIS;
      ctx.lineWidth = 1;
      ctx.strokeRect(Math.round(a.left) + 0.5, Math.round(a.top) + 0.5, Math.round(a.right - a.left), Math.round(a.bottom - a.top));
      // y tick labels (parallel to axis)
      ctx.fillStyle = TEXT;
      ctx.font = `15px ${FONT}`;
      s.yTicks.forEach((v, i) => {
        const lab = s.yLabels[i];
        if (!lab) return;
        ctx.save();
        ctx.translate(a.left - 22, ys.getPixelForValue(v));
        ctx.rotate(-Math.PI / 2);
        ctx.textAlign = 'center';
        ctx.textBaseline = 'middle';
        ctx.fillText(lab, 0, 0);
        ctx.restore();
      });
      // y title
      ctx.save();
      ctx.translate(a.left - 51, (a.top + a.bottom) / 2);
      ctx.rotate(-Math.PI / 2);
      ctx.textBaseline = 'middle';
      ctx.textAlign = 'left';
      ctx.font = `15px ${FONT}`;
      const w1 = ctx.measureText(s.yTitle).width;
      let w2 = 0;
      if (s.ySub) {
        ctx.font = `11px ${FONT}`;
        w2 = ctx.measureText(s.ySub).width;
      }
      const x0 = -(w1 + w2) / 2;
      ctx.font = `15px ${FONT}`;
      ctx.fillText(s.yTitle, x0, 0);
      if (s.ySub) {
        ctx.font = `11px ${FONT}`;
        ctx.fillText(s.ySub, x0 + w1, 4);
      }
      ctx.restore();
      // x title
      ctx.font = `15px ${FONT}`;
      ctx.textAlign = 'center';
      ctx.textBaseline = 'middle';
      ctx.fillText(s.xTitle, (a.left + a.right) / 2, a.bottom + s.xGap);
      // rho
      ctx.font = `bold 11px ${FONT}`;
      ctx.fillText(`ρ = ${s.rho}`, (a.left + a.right) / 2 + 3, a.top + 8);
      // legend
      if (s.legend) {
        ctx.font = `11px ${FONT}`;
        PEELS.forEach((p, k) => {
          const y = a.top + 17 + k * 12.3;
          ctx.strokeStyle = PEEL_COLORS[k];
          ctx.lineWidth = k === 0 ? 3 : 1.5;
          ctx.beginPath();
          ctx.moveTo(a.left + 153, y);
          ctx.lineTo(a.left + 180, y);
          ctx.stroke();
          ctx.fillStyle = TEXT;
          ctx.textAlign = 'left';
          ctx.fillText(p, a.left + 183, y);
        });
      }
      ctx.restore();
    },
  };
}

function buildConfig(s: PanelSpec) {
  const datasets: any[] = [];
  if (s.kind === 'ts') {
    datasets.push({
      data: YEARS.map((x, i) => ({ x, y: s.hi![i] })), fill: '+1', backgroundColor: BAND_COLOR,
      borderWidth: 0, borderColor: 'rgba(0,0,0,0)', pointRadius: 0, order: 100,
    });
    datasets.push({
      data: YEARS.map((x, i) => ({ x, y: s.lo![i] })), fill: false, backgroundColor: 'rgba(0,0,0,0)',
      borderWidth: 0, borderColor: 'rgba(0,0,0,0)', pointRadius: 0, order: 101,
    });
    s.lines!.forEach((arr, k) => {
      datasets.push({
        label: PEELS[k], data: arr.map((y, i) => ({ x: YEARS[i], y })),
        borderColor: PEEL_COLORS[k], borderWidth: k === 0 ? 3 : 1.5, pointRadius: 0, fill: false,
        borderCapStyle: 'round', borderJoinStyle: 'round', order: 20 - k,
      });
    });
  } else {
    s.curves!.forEach((c, k) => {
      datasets.push({
        label: PEELS[k], data: c.map(([x, y]) => ({ x, y })),
        borderColor: PEEL_COLORS[k], borderWidth: k === 0 ? 3 : 1.5, pointRadius: 0, fill: false,
        cubicInterpolationMode: 'monotone', borderCapStyle: 'round', order: 20 - k,
      });
    });
    s.msy!.forEach(([x, y], k) => {
      datasets.push({
        data: [{ x, y }], showLine: false, pointRadius: 5, pointStyle: k === 4 ? 'rectRot' : 'circle',
        backgroundColor: PEEL_COLORS[k], borderColor: PEEL_COLORS[k], borderWidth: 1, order: 10 - k,
      });
    });
  }
  const tickFont = { family: FONT, size: 15 };
  return {
    type: 'line',
    data: { datasets },
    options: {
      responsive: false,
      maintainAspectRatio: false,
      animation: false,
      devicePixelRatio: 1,
      events: [],
      layout: { padding: { left: 0, top: PAD_T, right: PAD_R, bottom: 0 } },
      plugins: { legend: { display: false }, tooltip: { enabled: false } },
      elements: { line: { tension: 0 }, point: { radius: 0 } },
      scales: {
        x: {
          type: 'linear', position: 'bottom', min: s.xRange[0], max: s.xRange[1],
          afterBuildTicks: (sc: any) => { sc.ticks = s.xTicks.map((value) => ({ value })); },
          afterFit: (sc: any) => { sc.height = PAD_B; },
          ticks: {
            autoSkip: false, maxRotation: 0, minRotation: 0, padding: 4, color: TEXT, font: tickFont,
            callback: (_v: any, i: number) => s.xLabels[i] ?? '',
          },
          grid: { drawOnChartArea: false, drawTicks: true, tickLength: 6, color: AXIS, lineWidth: 1 },
          border: { display: false },
        },
        y: {
          type: 'linear', position: 'left', min: s.yRange[0], max: s.yRange[1],
          afterBuildTicks: (sc: any) => { sc.ticks = s.yTicks.map((value) => ({ value })); },
          afterFit: (sc: any) => { sc.width = PAD_L; },
          ticks: { display: false },
          grid: { drawOnChartArea: false, drawTicks: true, tickLength: 6, color: AXIS, lineWidth: 1 },
          border: { display: false },
        },
      },
    },
    plugins: [decorPlugin(s)],
  };
}

function Panel({ spec }: { spec: PanelSpec }) {
  const ref = useRef<HTMLCanvasElement | null>(null);
  useEffect(() => {
    if (!ref.current) return;
    const chart = new Chart(ref.current, buildConfig(spec) as any);
    return () => chart.destroy();
  }, [spec]);
  const W = spec.w + PAD_L + PAD_R;
  const H = spec.h + PAD_T + PAD_B;
  return (
    <canvas
      ref={ref}
      width={W}
      height={H}
      style={{ position: 'absolute', left: spec.left - PAD_L, top: spec.top - PAD_T, width: W, height: H }}
    />
  );
}

export default function App() {
  return (
    <div style={{ position: 'absolute', left: 0, top: 0, width: 1201, height: 1069, overflow: 'hidden', background: '#ffffff' }}>
      {PANELS.map((p, i) => <Panel key={i} spec={p} />)}
      {SCENARIOS.map((t, i) => (
        <div
          key={t}
          style={{
            position: 'absolute', left: TITLE_POS[i].left, top: TITLE_POS[i].top,
            fontFamily: "'Liberation Serif', 'DejaVu Serif', 'Times New Roman', serif",
            fontSize: 50.5, lineHeight: '50px', color: '#ff0000', whiteSpace: 'nowrap', zIndex: 5,
          }}
        >
          {t}
        </div>
      ))}
    </div>
  );
}
